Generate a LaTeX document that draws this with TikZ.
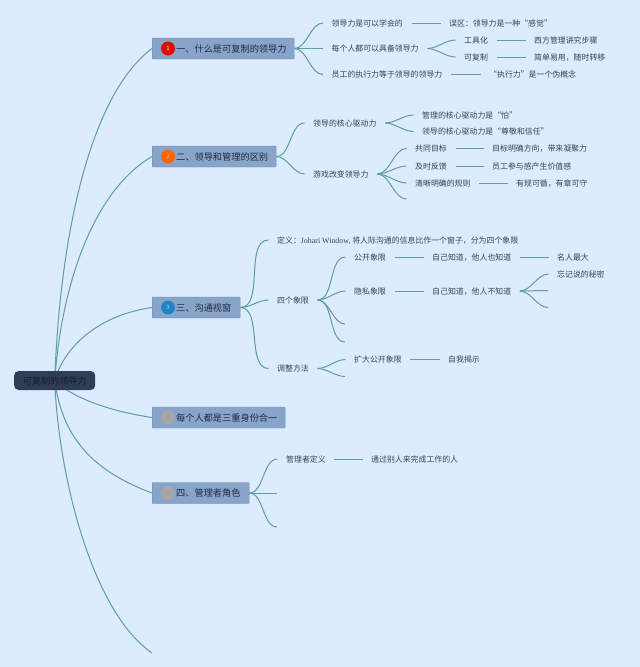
\documentclass[tikz,border=0pt]{standalone}
\usepackage{fontspec}
\setmainfont{Noto Sans CJK SC}
\newfontfamily\latinf{Liberation Serif}
\usetikzlibrary{backgrounds}
\definecolor{fondbleu}{HTML}{DCEBFD}
\definecolor{trait}{HTML}{5F9E9C}
\definecolor{boite}{HTML}{88A4C8}
\definecolor{encre}{HTML}{36454F}
\definecolor{titre}{HTML}{1E2C42}
\definecolor{racine}{HTML}{2F3D55}
\tikzset{
	item/.style={anchor=west,inner xsep=8.5pt,inner ysep=0pt,text height=7pt,text depth=1pt,text=encre,font=\fontsize{7.9pt}{9pt}\selectfont},
	boxnode/.style={anchor=west,fill=boite,draw=boite!85!black,line width=.3pt,rounded corners=.8pt,minimum height=21pt,inner ysep=0pt,inner xsep=12pt,align=left,text height=8pt,text depth=1pt,text=titre,font=\fontsize{9.2pt}{10pt}\selectfont},
	badge/.style={circle,minimum size=14pt,inner sep=0pt,text=white,font=\fontsize{6pt}{7pt}\selectfont},
	link/.style={draw=trait,line width=1pt},
	fork/.style={out=0,in=180,looseness=.85}
}
\begin{document}
\begin{tikzpicture}[x=1pt,y=-1pt]
	\useasboundingbox (0,0) rectangle (640,667);
	%racine et branches
	\node[anchor=west,fill=racine,rounded corners=4.5pt,minimum width=81pt,minimum height=19pt,inner sep=0pt,text height=8pt,text depth=1pt,text=titre!70!black,font=\fontsize{9.1pt}{10pt}\selectfont] (R) at (14,380.5) {可复制的领导力};
	\node[boxnode,minimum width=142pt,text width=118pt] (A) at (152,48.5) {\hspace*{12pt}一、什么是可复制的领导力};
	\node[boxnode,minimum width=124pt,text width=100pt] (B) at (152,156.5) {\hspace*{12pt}二、领导和管理的区别};
	\node[boxnode,minimum width=88pt,text width=64pt] (C) at (152,307.5) {\hspace*{12pt}三、沟通视窗};
	\node[boxnode,minimum width=133pt,text width=109pt] (D) at (152,417.5) {\hspace*{12pt}每个人都是三重身份合一};
	\node[boxnode,minimum width=97pt,text width=73pt] (E) at (152,493) {\hspace*{12pt}四、管理者角色};
	\coordinate (F) at (152,653);
	\node[badge,fill=red!85!black!90!orange] (bA) at (168,48.5) {1};
	\node[badge,fill=orange!80!red,text=orange!60!white] (bB) at (168,156.5) {2};
	\node[badge,fill=cyan!70!blue!90!black,text=cyan!50!white] (bC) at (168,307.5) {3};
	\node[badge,fill=black!35,text=black!40] (bD) at (168,417.5) {4};
	\node[badge,fill=black!35,text=black!40] (bE) at (168,493) {5};
	%premiere branche
	\node[item] (A1) at (323,23) {领导力是可以学会的};
	\node[item] (A2) at (323,48.5) {每个人都可以具备领导力};
	\node[item] (A3) at (323,74.5) {员工的执行力等于领导的领导力};
	\node[item] (A11) at (440.5,23) {误区：领导力是一种“感觉”};
	\node[item] (A21) at (455.5,40) {工具化};
	\node[item] (A22) at (455.5,57) {可复制};
	\node[item] (A211) at (525.5,40) {西方管理讲究步骤};
	\node[item] (A221) at (525.5,57) {简单易用，随时转移};
	\node[item] (A31) at (480.5,74.5) {“执行力”是一个伪概念};
	%deuxieme branche
	\node[item] (B1) at (304.5,123) {领导的核心驱动力};
	\node[item] (B2) at (304.5,174) {游戏改变领导力};
	\node[item] (B11) at (413.5,115) {管理的核心驱动力是“怕”};
	\node[item] (B12) at (413.5,131.5) {领导的核心驱动力是“尊敬和信任”};
	\node[item] (B21) at (406.5,148.5) {共同目标};
	\node[item] (B22) at (406.5,166) {及时反馈};
	\node[item] (B23) at (406.5,183) {清晰明确的规则};
	\coordinate (B24) at (406.5,199);
	\node[item] (B211) at (483.5,148.5) {目标明确方向，带来凝聚力};
	\node[item] (B221) at (483.5,166) {员工参与感产生价值感};
	\node[item] (B231) at (507.5,183) {有规可循，有章可守};
	%troisieme branche
	\node[item] (C1) at (268.5,240) {定义：{\latinf Johari Window,} 将人际沟通的信息比作一个窗子，分为四个象限};
	\node[item] (C2) at (268.5,300) {四个象限};
	\node[item] (C3) at (268.5,368.5) {调整方法};
	\node[item] (C21) at (345.5,257) {公开象限};
	\node[item] (C22) at (345.5,291) {隐私象限};
	\coordinate (C23) at (345,324);
	\coordinate (C24) at (345,342);
	\node[item] (C211) at (423.5,257) {自己知道，他人也知道};
	\node[item] (C221) at (423.5,291) {自己知道，他人不知道};
	\node[item] (C2111) at (548.5,257) {名人最大};
	\node[item] (C2211) at (548.5,274) {忘记说的秘密};
	\coordinate (C2212) at (548,290.5);
	\coordinate (C2213) at (548,307.5);
	\node[item] (C31) at (345.5,359.5) {扩大公开象限};
	\coordinate (C32) at (345,376.5);
	\node[item] (C311) at (439.5,359.5) {自我揭示};
	%derniere branche
	\node[item] (E1) at (277.5,459) {管理者定义};
	\coordinate (E2) at (277,493);
	\coordinate (E3) at (277,527);
	\node[item] (E11) at (362.5,459) {通过别人来完成工作的人};
	\begin{scope}[on background layer]
		\fill[fondbleu] (0,0) rectangle (640,667);
		\draw[link] (R.center) .. controls (60,235) and (90,95) .. (A.west);
		\draw[link] (R.center) .. controls (62,280) and (95,190) .. (B.west);
		\draw[link] (R.center) .. controls (65,345) and (100,315) .. (C.west);
		\draw[link] (R.center) .. controls (75,400) and (115,412) .. (D.west);
		\draw[link] (R.center) .. controls (62,435) and (90,470) .. (E.west);
		\draw[link] (R.center) .. controls (58,470) and (90,610) .. (F);
		\draw[link] (A.east) to[fork] (A1.west);
		\draw[link] (A.east) to[fork] (A2.west);
		\draw[link] (A.east) to[fork] (A3.west);
		\draw[link] (A1.east) -- (A11.west);
		\draw[link] (A2.east) to[fork] (A21.west);
		\draw[link] (A2.east) to[fork] (A22.west);
		\draw[link] (A21.east) -- (A211.west);
		\draw[link] (A22.east) -- (A221.west);
		\draw[link] (A3.east) -- (A31.west);
		\draw[link] (B.east) to[fork] (B1.west);
		\draw[link] (B.east) to[fork] (B2.west);
		\draw[link] (B1.east) to[fork] (B11.west);
		\draw[link] (B1.east) to[fork] (B12.west);
		\draw[link] (B2.east) to[fork] (B21.west);
		\draw[link] (B2.east) to[fork] (B22.west);
		\draw[link] (B2.east) to[fork] (B23.west);
		\draw[link] (B2.east) to[fork] (B24);
		\draw[link] (B21.east) -- (B211.west);
		\draw[link] (B22.east) -- (B221.west);
		\draw[link] (B23.east) -- (B231.west);
		\draw[link] (C.east) to[fork] (C1.west);
		\draw[link] (C.east) to[fork] (C2.west);
		\draw[link] (C.east) to[fork] (C3.west);
		\draw[link] (C2.east) to[fork] (C21.west);
		\draw[link] (C2.east) to[fork] (C22.west);
		\draw[link] (C2.east) to[fork] (C23);
		\draw[link] (C2.east) to[fork] (C24);
		\draw[link] (C21.east) -- (C211.west);
		\draw[link] (C22.east) -- (C221.west);
		\draw[link] (C211.east) -- (C2111.west);
		\draw[link] (C221.east) to[fork] (C2211.west);
		\draw[link] (C221.east) to[fork] (C2212);
		\draw[link] (C221.east) to[fork] (C2213);
		\draw[link] (C3.east) to[fork] (C31.west);
		\draw[link] (C3.east) to[fork] (C32);
		\draw[link] (C31.east) -- (C311.west);
		\draw[link] (E.east) to[fork] (E1.west);
		\draw[link] (E.east) -- (E2);
		\draw[link] (E.east) to[fork] (E3);
		\draw[link] (E1.east) -- (E11.west);
	\end{scope}
\end{tikzpicture}
\end{document}
